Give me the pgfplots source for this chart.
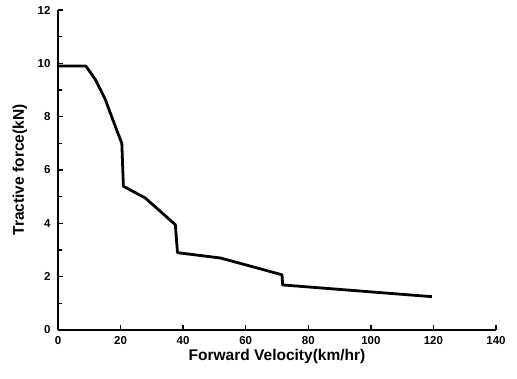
\documentclass[border=0pt]{standalone}
\usepackage{fontspec}
\setmainfont{Liberation Sans}
\usepackage{pgfplots}
\pgfplotsset{compat=1.18}
\begin{document}
\begin{tikzpicture}
\begin{axis}[
  scale only axis,
  width=438pt, height=320pt,
  xmin=0, xmax=140, ymin=0, ymax=12,
  axis lines=left,
  axis line style={line width=2pt, -},
  xtick={0,20,...,140},
  ytick={0,2,...,12},
  minor ytick={1,3,...,11},
  tick align=inside,
  major tick length=5pt,
  minor tick length=4pt,
  tick style={line width=1.4pt, black},
  ticklabel style={font=\bfseries\fontsize{11.5}{13}\selectfont},
  xticklabel style={yshift=-3pt},
  yticklabel style={xshift=-4pt},
  /pgf/number format/assume math mode=true,
  xlabel={Forward Velocity(km/hr)},
  ylabel={Tractive force(kN)},
  every axis x label/.style={at={(axis description cs:0.5,-0.084)}, anchor=center, font=\bfseries\fontsize{15.5}{18}\selectfont},
  every axis y label/.style={at={(axis description cs:-0.087,0.5)}, anchor=center, rotate=90, font=\bfseries\fontsize{15.5}{18}\selectfont},
  clip=false,
]
\addplot[black, line width=2.8pt, line join=round] coordinates {
(0,9.9) (8.9,9.9) (11.9,9.4) (15.1,8.65) (18.3,7.64) (20.4,7.0)
(20.9,5.39) (27.9,4.95) (37.5,3.95) (38.2,2.9) (51.9,2.7) (64.5,2.3)
(71.6,2.07) (71.8,1.69) (119.5,1.25)
};
\coordinate (sw) at (rel axis cs:0,0);
\coordinate (ne) at (rel axis cs:1,1);
\end{axis}
\pgfresetboundingbox
\path (sw) ++(-58pt,-48pt) coordinate (a);
\path (ne) ++(21pt,10pt) coordinate (b);
\path (a) rectangle (b);
\end{tikzpicture}
\end{document}
